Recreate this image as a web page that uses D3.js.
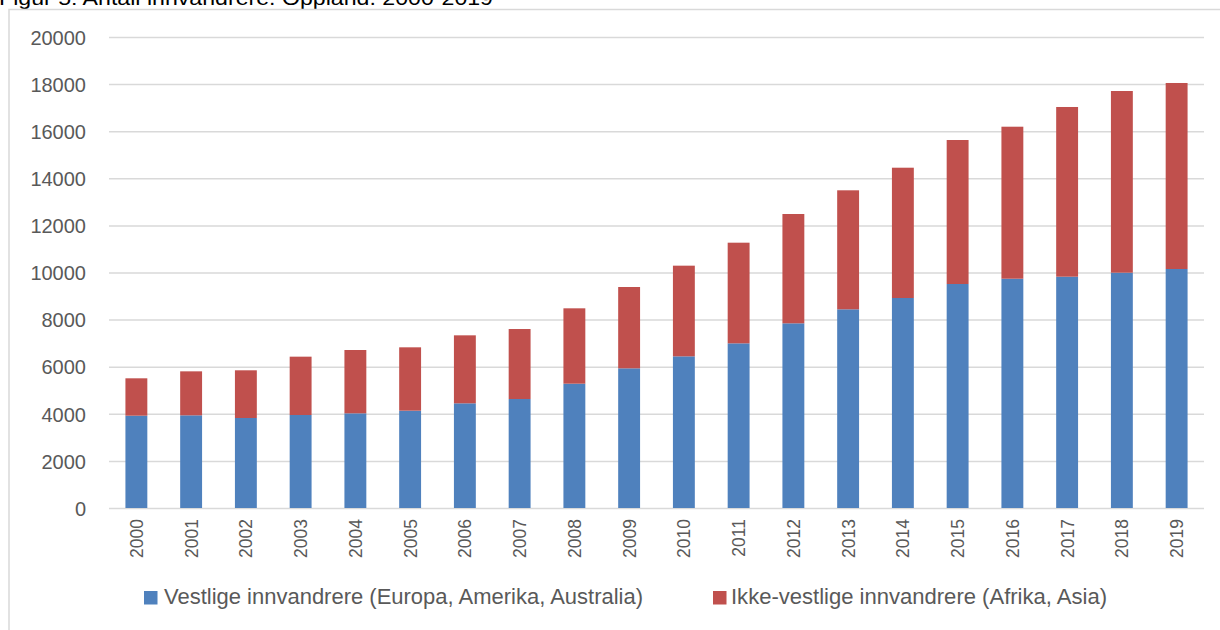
<!DOCTYPE html>
<html>
<head>
<meta charset="utf-8">
<script src="https://cdn.jsdelivr.net/npm/d3@7"></script>
<style>
  body { margin: 0; background: #fff; }
  svg { display: block; }
  text { font-family: "Liberation Sans", Arial, sans-serif; }
</style>
</head>
<body>
<svg width="1220" height="630"></svg>
<script>
var width = 1220;
var height = 630;

// data
var years = ["2000","2001","2002","2003","2004","2005","2006","2007","2008","2009",
             "2010","2011","2012","2013","2014","2015","2016","2017","2018","2019"];
var vestlige = [3920, 3935, 3822, 3949, 4020, 4133, 4445, 4628, 5279, 5931,
                6440, 6992, 7842, 8437, 8917, 9512, 9737, 9822, 9992, 10149];
var ikkeVestlige = [1587, 1868, 2025, 2477, 2689, 2690, 2887, 2972, 3200, 3453,
                    3850, 4274, 4642, 5053, 5533, 6114, 6454, 7206, 7715, 7898];
var seriesNames = ["Vestlige innvandrere (Europa, Amerika, Australia)",
                   "Ikke-vestlige innvandrere (Afrika, Asia)"];
var yTicks = [0, 2000, 4000, 6000, 8000, 10000, 12000, 14000, 16000, 18000, 20000];
var title = "Figur 5: Antall innvandrere. Oppland. 2000-2019";

var colors = ["#4f81bd", "#c0504d"];
var plotLeft = 109, plotRight = 1204, plotTop = 37, plotBottom = 508;

var svg = d3.select("svg");

svg.append("rect")
    .attr("width", width).attr("height", height)
    .attr("fill", "#fff");

// title, cut off by the top edge as in the source
svg.append("text")
    .attr("x", -1)
    .attr("y", 5)
    .attr("font-size", 21)
    .attr("fill", "#000")
    .attr("textLength", 494)
    .attr("lengthAdjust", "spacingAndGlyphs")
    .text(title);

// chart frame
svg.append("rect")
    .attr("x", 9).attr("y", 9.5)
    .attr("width", 1240).attr("height", 700)
    .attr("fill", "none")
    .attr("stroke", "#d9d9d9")
    .attr("stroke-width", 1.5);

var x = d3.scaleBand()
    .domain(years)
    .range([plotLeft, plotRight])
    .paddingInner(0.6)
    .paddingOuter(0.3);

var y = d3.scaleLinear()
    .domain([0, 20000])
    .range([plotBottom, plotTop]);

// gridlines + y labels
var yAxis = svg.append("g")
    .attr("transform", "translate(" + plotLeft + ",0)")
    .call(d3.axisLeft(y).tickValues(yTicks).tickSize(-(plotRight - plotLeft)).tickPadding(23).tickFormat(d3.format("d")));
yAxis.select(".domain").remove();
yAxis.selectAll(".tick line")
    .attr("stroke", "#d9d9d9")
    .attr("stroke-width", 1.5);
yAxis.selectAll(".tick text")
    .attr("font-family", "'Liberation Sans', Arial, sans-serif")
    .attr("font-size", 20)
    .attr("fill", "#595959")
    .attr("dy", "0.36em");

// stacked bars
var table = years.map(function(yr, i) {
    return { year: yr, v: vestlige[i], iv: ikkeVestlige[i] };
});
var stack = d3.stack().keys(["v", "iv"]);
var layers = stack(table);

svg.selectAll(".layer")
    .data(layers)
  .enter().append("g")
    .attr("class", "layer")
    .attr("fill", function(d, i) { return colors[i]; })
  .selectAll("rect")
    .data(function(d) { return d; })
  .enter().append("rect")
    .attr("x", function(d) { return x(d.data.year); })
    .attr("width", x.bandwidth())
    .attr("y", function(d) { return y(d[1]); })
    .attr("height", function(d) { return y(d[0]) - y(d[1]); });

// x labels, rotated
var xAxis = svg.append("g")
    .attr("transform", "translate(0," + plotBottom + ")")
    .call(d3.axisBottom(x).tickSize(0));
xAxis.select(".domain").remove();
xAxis.selectAll(".tick text")
    .attr("font-family", "'Liberation Sans', Arial, sans-serif")
    .attr("font-size", 17.5)
    .attr("fill", "#595959")
    .attr("transform", "rotate(-90)")
    .attr("text-anchor", "end")
    .attr("x", -11)
    .attr("y", 0)
    .attr("dy", "0.37em");

// legend
var legendX = [144, 713];
var legendTextX = [164, 731];
var legendTextW = [479, 376];
var legend = svg.selectAll(".legend")
    .data(seriesNames)
  .enter().append("g")
    .attr("class", "legend");

legend.append("rect")
    .attr("x", function(d, i) { return legendX[i]; })
    .attr("y", 591)
    .attr("width", 13.5)
    .attr("height", 13.5)
    .attr("fill", function(d, i) { return colors[i]; });

legend.append("text")
    .attr("x", function(d, i) { return legendTextX[i]; })
    .attr("y", 604)
    .attr("font-size", 21.5)
    .attr("fill", "#595959")
    .attr("textLength", function(d, i) { return legendTextW[i]; })
    .attr("lengthAdjust", "spacingAndGlyphs")
    .text(function(d) { return d; });
</script>
</body>
</html>
